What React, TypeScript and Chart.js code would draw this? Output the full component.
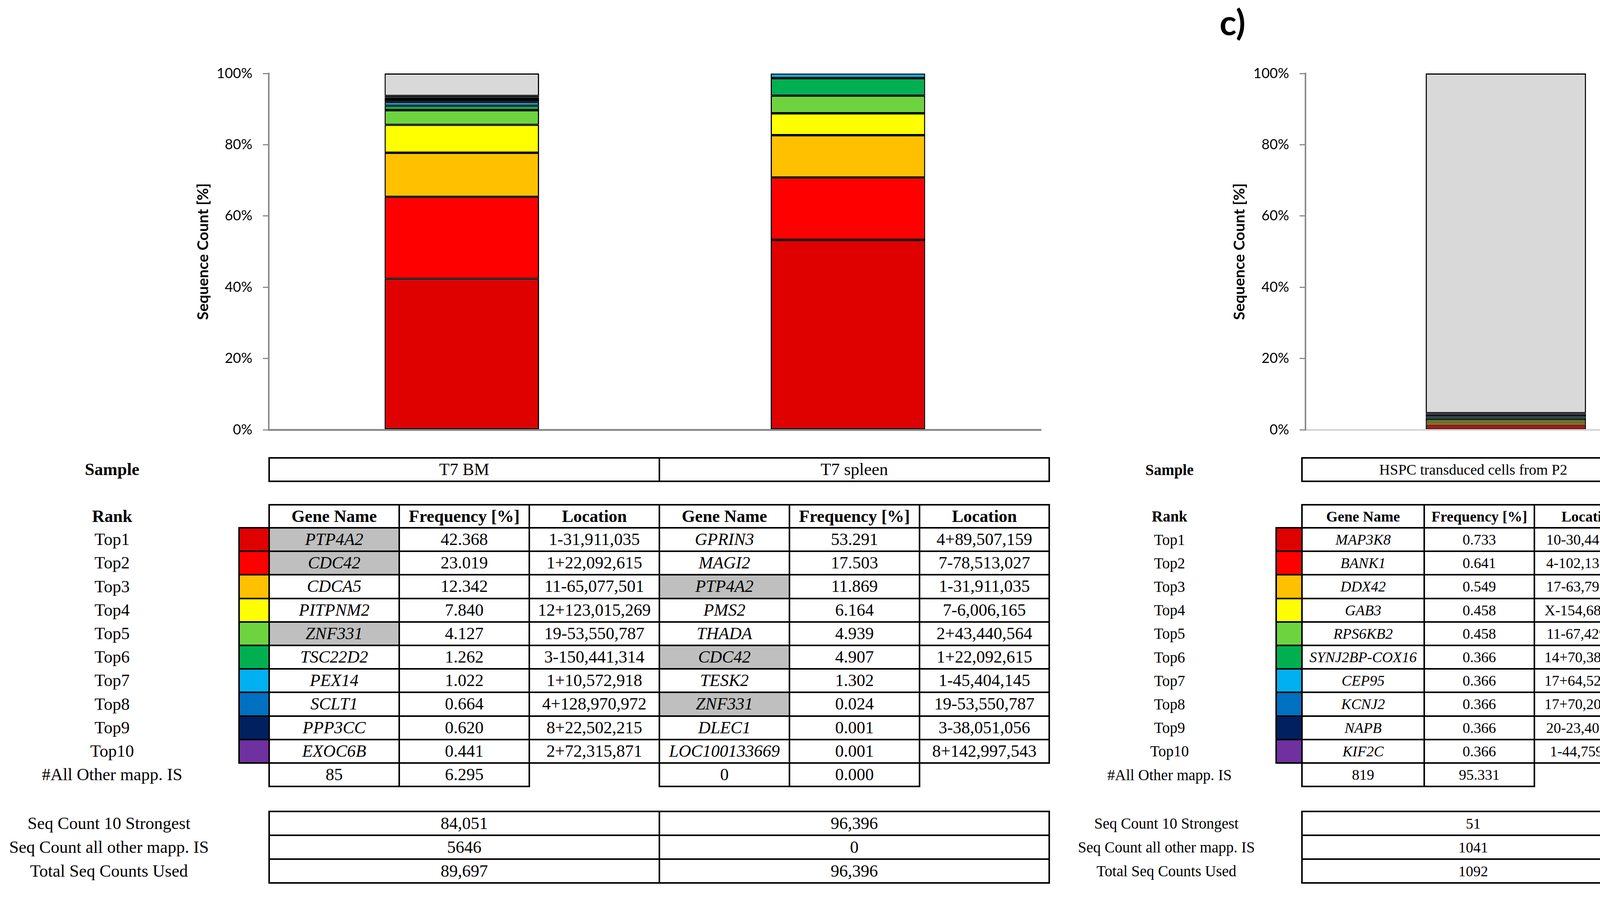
import React, { useEffect, useRef } from 'react';
import { Chart, registerables } from 'chart.js';

Chart.register(...registerables);

// ---------------- DATA ----------------
const rankLabels = ['Top1', 'Top2', 'Top3', 'Top4', 'Top5', 'Top6', 'Top7', 'Top8', 'Top9', 'Top10'];
const rankColors = ['#DF0000', '#FF0000', '#FFC000', '#FFFF00', '#6DD43F', '#00B050', '#00B0F0', '#0070C0', '#002060', '#7030A0'];
const otherColor = '#D9D9D9';
const otherLabel = '#All Other mapp. IS';

const leftSamples = ['T7 BM', 'T7 spleen'];
const rightSamples = ['HSPC transduced cells from P2'];

const bmGenes = ['PTP4A2', 'CDC42', 'CDCA5', 'PITPNM2', 'ZNF331', 'TSC22D2', 'PEX14', 'SCLT1', 'PPP3CC', 'EXOC6B'];
const bmFreq = [42.368, 23.019, 12.342, 7.840, 4.127, 1.262, 1.022, 0.664, 0.620, 0.441];
const bmLoc = ['1-31,911,035', '1+22,092,615', '11-65,077,501', '12+123,015,269', '19-53,550,787', '3-150,441,314', '1+10,572,918', '4+128,970,972', '8+22,502,215', '2+72,315,871'];
const bmShared = [true, true, false, false, true, false, false, false, false, false];

const spleenGenes = ['GPRIN3', 'MAGI2', 'PTP4A2', 'PMS2', 'THADA', 'CDC42', 'TESK2', 'ZNF331', 'DLEC1', 'LOC100133669'];
const spleenFreq = [53.291, 17.503, 11.869, 6.164, 4.939, 4.907, 1.302, 0.024, 0.001, 0.001];
const spleenLoc = ['4+89,507,159', '7-78,513,027', '1-31,911,035', '7-6,006,165', '2+43,440,564', '1+22,092,615', '1-45,404,145', '19-53,550,787', '3-38,051,056', '8+142,997,543'];
const spleenShared = [false, false, true, false, false, true, false, true, false, false];

const hspcGenes = ['MAP3K8', 'BANK1', 'DDX42', 'GAB3', 'RPS6KB2', 'SYNJ2BP-COX16', 'CEP95', 'KCNJ2', 'NAPB', 'KIF2C'];
const hspcFreq = [0.733, 0.641, 0.549, 0.458, 0.458, 0.366, 0.366, 0.366, 0.366, 0.366];
const hspcLoc = ['10-30,447,563', '4-102,133,943', '17-63,797,573', 'X-154,688,050', '11-67,429,393', '14+70,387,006', '17+64,523,544', '17+70,200,931', '20-23,406,933', '1-44,759,340'];

const leftOtherCount = ['85', '0'];
const leftOtherFreq = [6.295, 0.000];
const hspcOtherCount = ['819'];
const hspcOtherFreq = [95.331];

const summaryLabels = ['Seq Count 10 Strongest', 'Seq Count all other mapp. IS', 'Total Seq Counts Used'];
const bmSummary = ['84,051', '5646', '89,697'];
const spleenSummary = ['96,396', '0', '96,396'];
const hspcSummary = ['51', '1041', '1092'];

const yTicks = [0, 20, 40, 60, 80, 100];
const yTitle = 'Sequence Count [%]';
const panelLabel = 'c)';

// ---------------- CHART ----------------
type ChartProps = {
  left: number; top: number; width: number; height: number;
  labels: string[];
  series: number[][];
  others: number[];
  yWidth: number; titlePad: number;
  padTop: number; padRight: number; padBottom: number;
  xAxisColor: string;
  segBorder: any;
};

function StackChart(p: ChartProps) {
  const ref = useRef<HTMLCanvasElement | null>(null);
  useEffect(() => {
    if (!ref.current) return;
    const datasets: any[] = p.series.map((vals, i) => ({
      label: rankLabels[i],
      data: vals,
      backgroundColor: rankColors[i],
      borderColor: '#000',
      borderWidth: p.segBorder,
      borderSkipped: false,
      barPercentage: 0.4,
      categoryPercentage: 1.0,
    }));
    datasets.push({
      label: otherLabel,
      data: p.others,
      backgroundColor: otherColor,
      borderColor: '#000',
      borderWidth: 3,
      borderSkipped: false,
      barPercentage: 0.4,
      categoryPercentage: 1.0,
    });
    const chart = new Chart(ref.current, {
      type: 'bar',
      data: { labels: p.labels, datasets },
      options: {
        animation: false,
        responsive: false,
        maintainAspectRatio: false,
        devicePixelRatio: 1,
        layout: { padding: { left: 0, top: p.padTop, right: p.padRight, bottom: p.padBottom } },
        plugins: { legend: { display: false }, tooltip: { enabled: false }, title: { display: false } },
        scales: {
          x: {
            type: 'category',
            stacked: true,
            offset: true,
            grid: { display: false },
            ticks: { display: false },
            border: { display: true, color: p.xAxisColor, width: 5 },
            afterFit: (s: any) => { s.height = 0; },
          },
          y: {
            stacked: true,
            min: 0,
            max: 100,
            afterBuildTicks: (s: any) => { s.ticks = yTicks.map((v) => ({ value: v })); },
            ticks: {
              callback: (v: any) => `${v}%`,
              color: '#000',
              font: { family: 'Lato', size: 36 },
              padding: 27,
            },
            grid: { display: true, drawOnChartArea: false, drawTicks: true, tickLength: 15, color: '#8C8C8C', lineWidth: 3 },
            border: { display: true, color: '#8C8C8C', width: 4 },
            title: {
              display: true,
              text: yTitle,
              color: '#000',
              font: { family: 'Lato', size: 39, weight: 'bold' },
              padding: { top: p.titlePad, bottom: 0 },
            },
            afterFit: (s: any) => { s.width = p.yWidth; },
          },
        },
      } as any,
    });
    return () => chart.destroy();
  }, []);
  return (
    <canvas
      ref={ref}
      width={p.width}
      height={p.height}
      style={{ position: 'absolute', left: p.left, top: p.top, width: p.width, height: p.height }}
    />
  );
}

// ---------------- TABLE HELPERS ----------------
const SERIF = '"Liberation Serif", "Times New Roman", serif';
const BW = 4;

type BoxProps = {
  x: number; y: number; w: number; h: number; text?: string;
  bg?: string; italic?: boolean; bold?: boolean; size: number;
};
function Box({ x, y, w, h, text, bg, italic, bold, size }: BoxProps) {
  return (
    <div
      style={{
        position: 'absolute', left: x - BW / 2, top: y - BW / 2, width: w + BW, height: h + BW,
        boxSizing: 'border-box', border: `${BW}px solid #000`, background: bg || '#fff',
        display: 'flex', alignItems: 'center', justifyContent: 'center',
        fontFamily: SERIF, fontSize: size, fontStyle: italic ? 'italic' : 'normal',
        fontWeight: bold ? 'bold' : 'normal', whiteSpace: 'nowrap', lineHeight: 1, color: '#000',
        overflow: 'visible',
      }}
    >
      {text}
    </div>
  );
}

function Label({ cx, cy, text, bold, size }: { cx: number; cy: number; text: string; bold?: boolean; size: number }) {
  return (
    <div
      style={{
        position: 'absolute', left: cx - 400, top: cy - 40, width: 800, height: 80,
        display: 'flex', alignItems: 'center', justifyContent: 'center',
        fontFamily: SERIF, fontSize: size, fontWeight: bold ? 'bold' : 'normal',
        whiteSpace: 'nowrap', lineHeight: 1, color: '#000',
      }}
    >
      {text}
    </div>
  );
}

const SAMPLE_Y = 1172, SAMPLE_H = 60;
const HEAD_Y = 1292, HEAD_H = 59;
const ROW_Y = 1351, ROW_H = 60.2;
const OTHER_Y = ROW_Y + 10 * ROW_H;
const SUM_Y = 2077, SUM_H = 61;
const rowTop = (i: number) => ROW_Y + i * ROW_H;

type Block = { genes: string[]; freq: number[]; loc: string[]; shared?: boolean[]; otherCount: string; otherFreq: number; summary: string[] };

function SampleTables({ cols, swatchX, blocks, samples, size, labelCx, labelSize }: {
  cols: number[]; swatchX: number; blocks: Block[]; samples: string[]; size: number; labelCx: number; labelSize: number;
}) {
  const els: React.ReactNode[] = [];
  const first = cols[0];
  els.push(<Label key="ls" cx={labelCx} cy={SAMPLE_Y + SAMPLE_H / 2} text="Sample" bold size={labelSize} />);
  els.push(<Label key="lr" cx={labelCx} cy={HEAD_Y + HEAD_H / 2} text="Rank" bold size={labelSize} />);
  rankLabels.forEach((r, i) => els.push(<Label key={'lrk' + i} cx={labelCx} cy={rowTop(i) + ROW_H / 2} text={r} size={labelSize} />));
  els.push(<Label key="lo" cx={labelCx} cy={OTHER_Y + ROW_H / 2} text={otherLabel} size={labelSize} />);
  summaryLabels.forEach((t, i) => els.push(<Label key={'lsm' + i} cx={labelCx - 8} cy={SUM_Y + i * SUM_H + SUM_H / 2} text={t} size={labelSize} />));
  rankColors.forEach((c, i) => els.push(<Box key={'sw' + i} x={swatchX} y={rowTop(i)} w={first - swatchX} h={ROW_H} bg={c} size={size} />));
  blocks.forEach((b, bi) => {
    const x0 = cols[bi * 3], x1 = cols[bi * 3 + 1], x2 = cols[bi * 3 + 2], x3 = cols[bi * 3 + 3];
    els.push(<Box key={'s' + bi} x={x0} y={SAMPLE_Y} w={x3 - x0} h={SAMPLE_H} text={samples[bi]} size={size} />);
    els.push(<Box key={'h1' + bi} x={x0} y={HEAD_Y} w={x1 - x0} h={HEAD_H} text="Gene Name" bold size={size} />);
    els.push(<Box key={'h2' + bi} x={x1} y={HEAD_Y} w={x2 - x1} h={HEAD_H} text="Frequency [%]" bold size={size} />);
    els.push(<Box key={'h3' + bi} x={x2} y={HEAD_Y} w={x3 - x2} h={HEAD_H} text="Location" bold size={size} />);
    b.genes.forEach((g, i) => {
      const y = rowTop(i);
      els.push(<Box key={`g${bi}-${i}`} x={x0} y={y} w={x1 - x0} h={ROW_H} text={g} italic bg={b.shared && b.shared[i] ? '#BFBFBF' : '#fff'} size={size} />);
      els.push(<Box key={`f${bi}-${i}`} x={x1} y={y} w={x2 - x1} h={ROW_H} text={b.freq[i].toFixed(3)} size={size} />);
      els.push(<Box key={`l${bi}-${i}`} x={x2} y={y} w={x3 - x2} h={ROW_H} text={b.loc[i]} size={size} />);
    });
    els.push(<Box key={'oc' + bi} x={x0} y={OTHER_Y} w={x1 - x0} h={ROW_H} text={b.otherCount} size={size} />);
    els.push(<Box key={'of' + bi} x={x1} y={OTHER_Y} w={x2 - x1} h={ROW_H} text={b.otherFreq.toFixed(3)} size={size} />);
    b.summary.forEach((s, i) => els.push(<Box key={`sm${bi}-${i}`} x={x0} y={SUM_Y + i * SUM_H} w={x3 - x0} h={SUM_H} text={s} size={size} />));
  });
  return <>{els}</>;
}

export default function App() {
  const leftSeries = bmFreq.map((v, i) => [v, spleenFreq[i]]);
  const rightSeries = hspcFreq.map((v) => [v]);
  const leftBlocks: Block[] = [
    { genes: bmGenes, freq: bmFreq, loc: bmLoc, shared: bmShared, otherCount: leftOtherCount[0], otherFreq: leftOtherFreq[0], summary: bmSummary },
    { genes: spleenGenes, freq: spleenFreq, loc: spleenLoc, shared: spleenShared, otherCount: leftOtherCount[1], otherFreq: leftOtherFreq[1], summary: spleenSummary },
  ];
  const rightBlocks: Block[] = [
    { genes: hspcGenes, freq: hspcFreq, loc: hspcLoc, otherCount: hspcOtherCount[0], otherFreq: hspcOtherFreq[0], summary: hspcSummary },
  ];
  return (
    <div style={{ position: 'absolute', left: 0, top: 0, width: 4242, height: 2296, overflow: 'hidden', background: '#fff' }}>
      <StackChart
        left={460} top={100} width={2300} height={1050}
        labels={leftSamples}
        series={leftSeries}
        others={leftOtherFreq}
        yWidth={228} titlePad={37}
        padTop={88} padRight={95} padBottom={50}
        xAxisColor="#8C8C8C"
        segBorder={3}
      />
      <StackChart
        left={3110} top={100} width={1300} height={1050}
        labels={rightSamples}
        series={rightSeries}
        others={hspcOtherFreq}
        yWidth={232} titlePad={40}
        padTop={88} padRight={42} padBottom={50}
        xAxisColor="#D9D9D9"
        segBorder={{ top: 1.5, bottom: 1.5, left: 3, right: 3 }}
      />
      <div style={{ position: 'absolute', left: 3122, top: 10, fontFamily: 'Lato', fontWeight: 'bold', fontSize: 90, lineHeight: 1, color: '#000' }}>
        {panelLabel}
      </div>
      <SampleTables
        cols={[689, 1022, 1355, 1688, 2021, 2354, 2686]}
        swatchX={612}
        blocks={leftBlocks}
        samples={leftSamples}
        size={44}
        labelCx={287}
        labelSize={44}
      />
      <SampleTables
        cols={[3333, 3646, 3928, 4210]}
        swatchX={3267}
        blocks={rightBlocks}
        samples={rightSamples}
        size={38}
        labelCx={2994}
        labelSize={39}
      />
    </div>
  );
}
